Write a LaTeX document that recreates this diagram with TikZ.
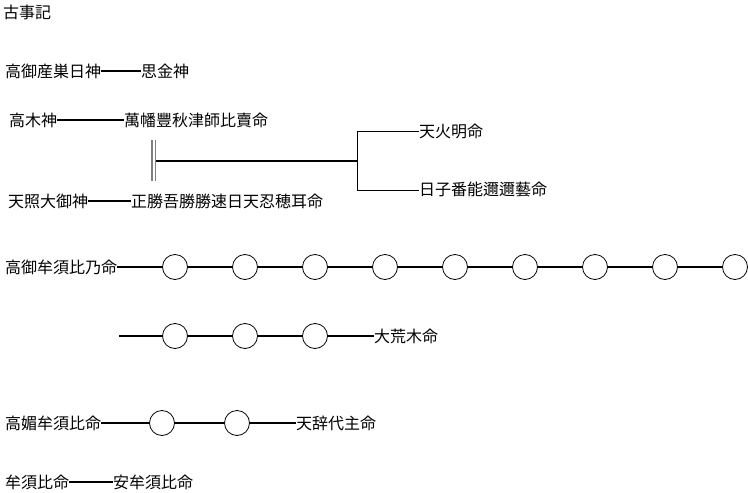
\documentclass[tikz,border=0pt]{standalone}
\usepackage{fontspec}
\setmainfont{Noto Sans CJK JP}
\usetikzlibrary{positioning}

\tikzset{
  deity/.style={anchor=west, inner sep=0pt, font=\fontsize{16}{16}\selectfont},
  ring/.style={circle, draw, line width=0.8pt, minimum size=25pt, inner sep=0pt, fill=white},
  link/.style={line width=1.6pt},
  thin/.style={line width=1pt},
  dbl/.style={line width=1.5pt, gray}
}

\begin{document}
\begin{tikzpicture}[x=1pt, y=-1pt, node distance=44.2pt]

  \useasboundingbox (0,0) rectangle (748,493);

  \node (title) [deity] at (3,12) {古事記};

  \node (taka) [deity] at (5,71) {高御産巣日神};
  \node (omoi) [deity] at (141,71) {思金神};

  \node (takagi) [deity] at (9,120) {高木神};
  \node (yoro) [deity] at (124,120) {萬幡豐秋津師比賣命};

  \node (ama) [deity] at (8,201) {天照大御神};
  \node (masa) [deity] at (131,201) {正勝吾勝勝速日天忍穂耳命};

  \node (hoa) [deity] at (419,131) {天火明命};
  \node (hiko) [deity] at (419,190) {日子番能邇邇藝命};

  \node (gmk) [deity] at (5,267) {高御牟須比乃命};
  \node (A) [ring] at (175,267) {};
  \node (B) [ring, right=of A] {};
  \node (C) [ring, right=of B] {};
  \node (D) [ring, right=of C] {};
  \node (E) [ring, right=of D] {};
  \node (F) [ring, right=of E] {};
  \node (G) [ring, right=of F] {};
  \node (H) [ring, right=of G] {};
  \node (I) [ring, right=of H] {};

  \coordinate (start) at (119,336);
  \node (A1) [ring] at (175,336) {};
  \node (B1) [ring, right=of A1] {};
  \node (C1) [ring, right=of B1] {};
  \node (oara) [deity] at (374,336) {大荒木命};

  \node (kbm) [deity] at (5,423) {高媚牟須比命};
  \node (A2) [ring] at (162,423) {};
  \node (B2) [ring, right=of A2, xshift=5pt] {};
  \node (koto) [deity] at (296,423) {天辞代主命};

  \node (musu) [deity] at (5,482) {牟須比命};
  \node (yasu) [deity] at (113,482) {安牟須比命};

  \draw[link] (taka) -- (omoi);
  \draw[link] (takagi) -- (yoro);
  \draw[link] (ama) -- (masa);

  % marriage
  \coordinate (mtop) at (151.8,140);
  \coordinate (mbot) at (151.8,181);
  \coordinate (mid) at (155.5,161);
  \coordinate (fork) at (357,161);
  \draw[dbl] (mtop) -- (mbot);
  \draw[dbl] (mtop -| mid) -- (mbot -| mid);
  \draw[link] (mid) -- (fork);
  \draw[thin] (hoa.west) -- (fork |- hoa.west) -- (fork |- hiko.west) -- (hiko.west);

  \draw[link] (gmk) -- (A) -- (B) -- (C) -- (D) -- (E) -- (F) -- (G) -- (H) -- (I);
  \draw[link] (start) -- (A1) -- (B1) -- (C1) -- (oara);
  \draw[link] (kbm) -- (A2) -- (B2) -- (koto);
  \draw[link] (musu) -- (yasu);

\end{tikzpicture}
\end{document}
